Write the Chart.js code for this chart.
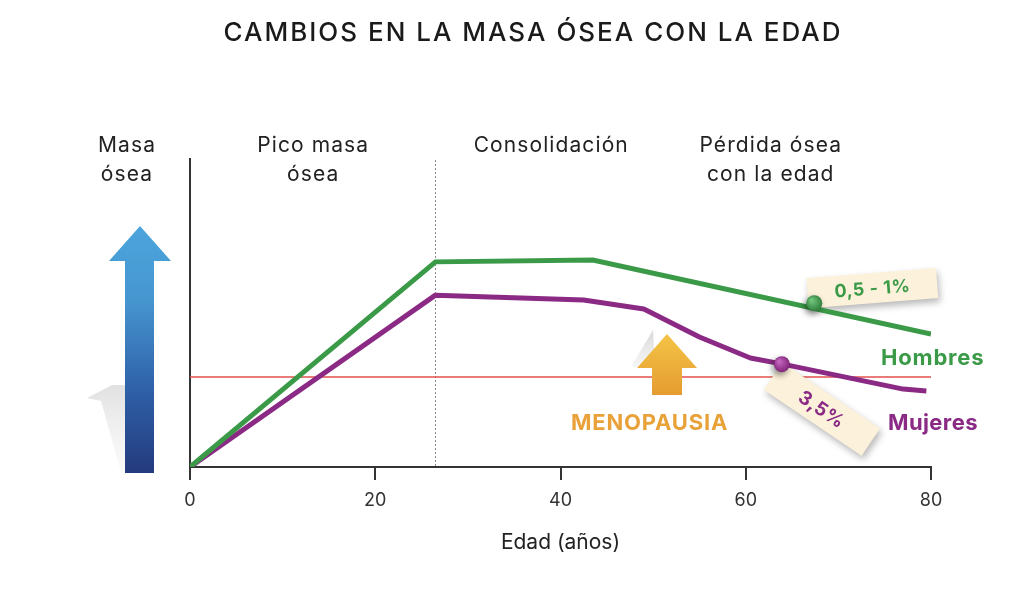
<!DOCTYPE html>
<html>
<head>
<meta charset="utf-8">
<script src="https://cdn.jsdelivr.net/npm/chart.js@4/dist/chart.umd.min.js"></script>
<style>
  html, body { margin: 0; padding: 0; background: #fff; }
  #wrap { width: 1024px; height: 592px; position: relative; }
</style>
</head>
<body>
<div id="wrap"><canvas id="c" width="1024" height="592"></canvas></div>
<script>
// ---- data ----
const xTicks = [0, 20, 40, 60, 80];
const hombresEdad = [0, 26.5, 43.5, 80];
const hombresMasa = [0, 66.6, 67.2, 43.2];
const mujeresEdad = [0, 26.5, 42.5, 49, 55, 60.5, 64, 77, 79.5];
const mujeresMasa = [0, 55.8, 54.2, 51.3, 42.2, 35.4, 33.4, 25.3, 24.7];
const umbralEdad = [0, 80];
const umbralMasa = [29.2, 29.2];
const picoEdad = 26.5;
const menopausiaEdad = 51.5;
const marcaHombres = { edad: 67.4, masa: 53.2, texto: '0,5 - 1%' };
const marcaMujeres = { edad: 63.9, masa: 33.4, texto: '3,5%' };
const titulo = 'CAMBIOS EN LA MASA ÓSEA CON LA EDAD';
const etapas = [
  { lineas: ['Masa', 'ósea'], edad: -6.8 },
  { lineas: ['Pico masa', 'ósea'], edad: 13.3 },
  { lineas: ['Consolidación'], edad: 39 },
  { lineas: ['Pérdida ósea', 'con la edad'], edad: 62.7 }
];

const GREEN = '#3b9a48';
const PURPLE = '#8a2a85';
const FONT = 'Inter, "Open Sans", sans-serif';

const zip = (xs, ys) => xs.map((x, i) => ({ x, y: ys[i] }));

function markerFill(color, light) {
  return (ctx) => {
    const chart = ctx.chart;
    if (!chart.chartArea || !ctx.parsed) return color;
    const px = chart.scales.x.getPixelForValue(ctx.parsed.x);
    const py = chart.scales.y.getPixelForValue(ctx.parsed.y);
    const g = chart.ctx.createRadialGradient(px - 3, py - 3, 1, px, py, 9);
    g.addColorStop(0, light);
    g.addColorStop(1, color);
    return g;
  };
}

function drawTag(ctx, cx, cy, w, h, angDeg, text, color, size) {
  ctx.save();
  ctx.translate(cx, cy);
  ctx.rotate(angDeg * Math.PI / 180);
  ctx.shadowColor = 'rgba(0,0,0,0.28)';
  ctx.shadowBlur = 7;
  ctx.shadowOffsetX = 2;
  ctx.shadowOffsetY = 4;
  ctx.fillStyle = '#fcf1da';
  ctx.fillRect(-w / 2, -h / 2, w, h);
  ctx.shadowColor = 'transparent';
  ctx.fillStyle = color;
  ctx.font = 'bold ' + size + 'px ' + FONT;
  ctx.letterSpacing = '0.5px';
  ctx.textAlign = 'center';
  ctx.textBaseline = 'middle';
  ctx.fillText(text, 0, 1);
  ctx.restore();
}

function spacedText(ctx, text, x, y, spacing) {
  ctx.letterSpacing = spacing + 'px';
  ctx.fillText(text, x, y);
  ctx.letterSpacing = '0px';
}

const deco = {
  id: 'deco',
  beforeDraw(chart) {
    const ctx = chart.ctx;
    ctx.save();
    ctx.fillStyle = '#fff';
    ctx.fillRect(0, 0, chart.width, chart.height);
    ctx.restore();
  },
  beforeDatasetsDraw(chart) {
    const ctx = chart.ctx, xs = chart.scales.x, ys = chart.scales.y;
    const x = xs.getPixelForValue(picoEdad);
    ctx.save();
    ctx.strokeStyle = '#8a8a8a';
    ctx.lineWidth = 1;
    ctx.setLineDash([2, 2]);
    ctx.beginPath();
    ctx.moveTo(Math.round(x) + 0.5, ys.top + 1);
    ctx.lineTo(Math.round(x) + 0.5, ys.bottom);
    ctx.stroke();
    ctx.restore();
  },
  beforeDatasetDraw(chart, args) {
    const ds = chart.data.datasets[args.index];
    if (ds.marker) {
      const ctx = chart.ctx;
      ctx.save();
      ctx.shadowColor = 'rgba(0,0,0,0.45)';
      ctx.shadowBlur = 6;
      ctx.shadowOffsetX = -2;
      ctx.shadowOffsetY = 3;
    }
  },
  afterDatasetDraw(chart, args) {
    const ds = chart.data.datasets[args.index];
    const ctx = chart.ctx, xs = chart.scales.x, ys = chart.scales.y;
    if (ds.marker) { ctx.restore(); return; }
    if (ds.umbral) {
      // menopause arrow
      const ax = xs.getPixelForValue(menopausiaEdad);
      ctx.save();
      const sg = ctx.createLinearGradient(0, 330, 0, 368);
      sg.addColorStop(0, 'rgba(205,205,205,0.8)');
      sg.addColorStop(1, 'rgba(238,238,238,0.5)');
      ctx.fillStyle = sg;
      ctx.beginPath();
      ctx.moveTo(ax - 14, 330);
      ctx.lineTo(ax - 36, 367);
      ctx.lineTo(ax - 12, 367);
      ctx.closePath();
      ctx.fill();
      const g = ctx.createLinearGradient(0, 334, 0, 395);
      g.addColorStop(0, '#f4c446');
      g.addColorStop(1, '#e59c30');
      ctx.fillStyle = g;
      ctx.beginPath();
      ctx.moveTo(ax, 334);
      ctx.lineTo(ax + 30, 368);
      ctx.lineTo(ax + 15, 368);
      ctx.lineTo(ax + 15, 395);
      ctx.lineTo(ax - 15, 395);
      ctx.lineTo(ax - 15, 368);
      ctx.lineTo(ax - 30, 368);
      ctx.closePath();
      ctx.fill();
      ctx.restore();
      // tags
      const hx = xs.getPixelForValue(marcaHombres.edad), hy = ys.getPixelForValue(marcaHombres.masa);
      drawTag(ctx, hx + 58, hy - 15, 130, 30, -4.5, marcaHombres.texto, GREEN, 18);
      const mx = xs.getPixelForValue(marcaMujeres.edad), my = ys.getPixelForValue(marcaMujeres.masa);
      drawTag(ctx, mx + 40, my + 45, 118, 33, 34, marcaMujeres.texto, PURPLE, 19);
    }
  },
  afterDraw(chart) {
    const ctx = chart.ctx, xs = chart.scales.x;
    ctx.save();
    // title
    ctx.fillStyle = '#1a1a1a';
    ctx.font = '500 26px ' + FONT;
    ctx.textAlign = 'center';
    ctx.textBaseline = 'middle';
    spacedText(ctx, titulo, 533, 33, 2);
    // stage headers
    ctx.fillStyle = '#222';
    ctx.font = '21px ' + FONT;
    etapas.forEach(e => {
      const x = xs.getPixelForValue(e.edad);
      e.lineas.forEach((t, i) => spacedText(ctx, t, x, 146 + i * 29, 1.1));
    });
    // series labels
    ctx.textAlign = 'left';
    ctx.font = 'bold 22px ' + FONT;
    ctx.fillStyle = GREEN;
    spacedText(ctx, 'Hombres', 881, 358, 0.8);
    ctx.fillStyle = PURPLE;
    spacedText(ctx, 'Mujeres', 888, 423, 0.4);
    ctx.fillStyle = '#e9a13a';
    ctx.font = 'bold 22px ' + FONT;
    spacedText(ctx, 'MENOPAUSIA', 571, 423, 0.8);
    // left shadow arrow
    const sg = ctx.createLinearGradient(0, 385, 0, 473);
    sg.addColorStop(0, 'rgba(215,215,215,0.75)');
    sg.addColorStop(1, 'rgba(242,242,242,0.35)');
    ctx.fillStyle = sg;
    ctx.beginPath();
    ctx.moveTo(87, 398);
    ctx.lineTo(112, 385);
    ctx.lineTo(126, 385);
    ctx.lineTo(126, 473);
    ctx.lineTo(121, 473);
    ctx.lineTo(101, 401);
    ctx.closePath();
    ctx.fill();
    // blue arrow
    const bg = ctx.createLinearGradient(0, 226, 0, 473);
    bg.addColorStop(0, '#4ca5dc');
    bg.addColorStop(0.3, '#4696d0');
    bg.addColorStop(0.65, '#2f62aa');
    bg.addColorStop(1, '#243a7d');
    ctx.fillStyle = bg;
    ctx.beginPath();
    ctx.moveTo(140, 226);
    ctx.lineTo(171, 261);
    ctx.lineTo(154, 261);
    ctx.lineTo(154, 473);
    ctx.lineTo(125, 473);
    ctx.lineTo(125, 261);
    ctx.lineTo(109, 261);
    ctx.closePath();
    ctx.fill();
    ctx.restore();
  }
};

new Chart(document.getElementById('c'), {
  type: 'line',
  data: {
    datasets: [
      { data: [{ x: marcaHombres.edad, y: marcaHombres.masa }], marker: true, showLine: false,
        pointRadius: 8, pointBackgroundColor: markerFill('#2c7a3a', '#6fc47a'), pointBorderWidth: 0, order: 0 },
      { data: [{ x: marcaMujeres.edad, y: marcaMujeres.masa }], marker: true, showLine: false,
        pointRadius: 8, pointBackgroundColor: markerFill('#7a1f74', '#c565bd'), pointBorderWidth: 0, order: 1 },
      { data: zip(hombresEdad, hombresMasa), borderColor: GREEN, borderWidth: 5, pointRadius: 0,
        borderJoinStyle: 'miter', tension: 0, order: 2 },
      { data: zip(mujeresEdad, mujeresMasa), borderColor: PURPLE, borderWidth: 5, pointRadius: 0,
        borderJoinStyle: 'round', tension: 0, order: 3 },
      { data: zip(umbralEdad, umbralMasa), umbral: true, borderColor: '#e2514c', borderWidth: 1.5,
        pointRadius: 0, order: 4 }
    ]
  },
  options: {
    responsive: false,
    animation: false,
    events: [],
    layout: { padding: { left: 190, right: 93, top: 159, bottom: 0 } },
    plugins: { legend: { display: false }, tooltip: { enabled: false }, title: { display: false } },
    scales: {
      x: {
        type: 'linear', min: 0, max: 80,
        afterBuildTicks: (s) => { s.ticks = xTicks.map(v => ({ value: v })); },
        afterFit: (s) => { s.height = 125; },
        border: { color: '#333', width: 2 },
        grid: { drawOnChartArea: false, drawTicks: true, tickLength: 13, color: '#333', lineWidth: 2 },
        ticks: { color: '#333', font: { family: FONT, size: 18 }, padding: 10, maxRotation: 0 },
        title: { display: true, text: 'Edad (años)', color: '#222', font: { family: FONT, size: 21 },
                 padding: { top: 0, bottom: 37 } }
      },
      y: {
        min: 0, max: 100,
        afterFit: (s) => { s.width = 0; },
        border: { color: '#333', width: 2 },
        grid: { display: false },
        ticks: { display: false }
      }
    }
  },
  plugins: [deco]
});
</script>
</body>
</html>
